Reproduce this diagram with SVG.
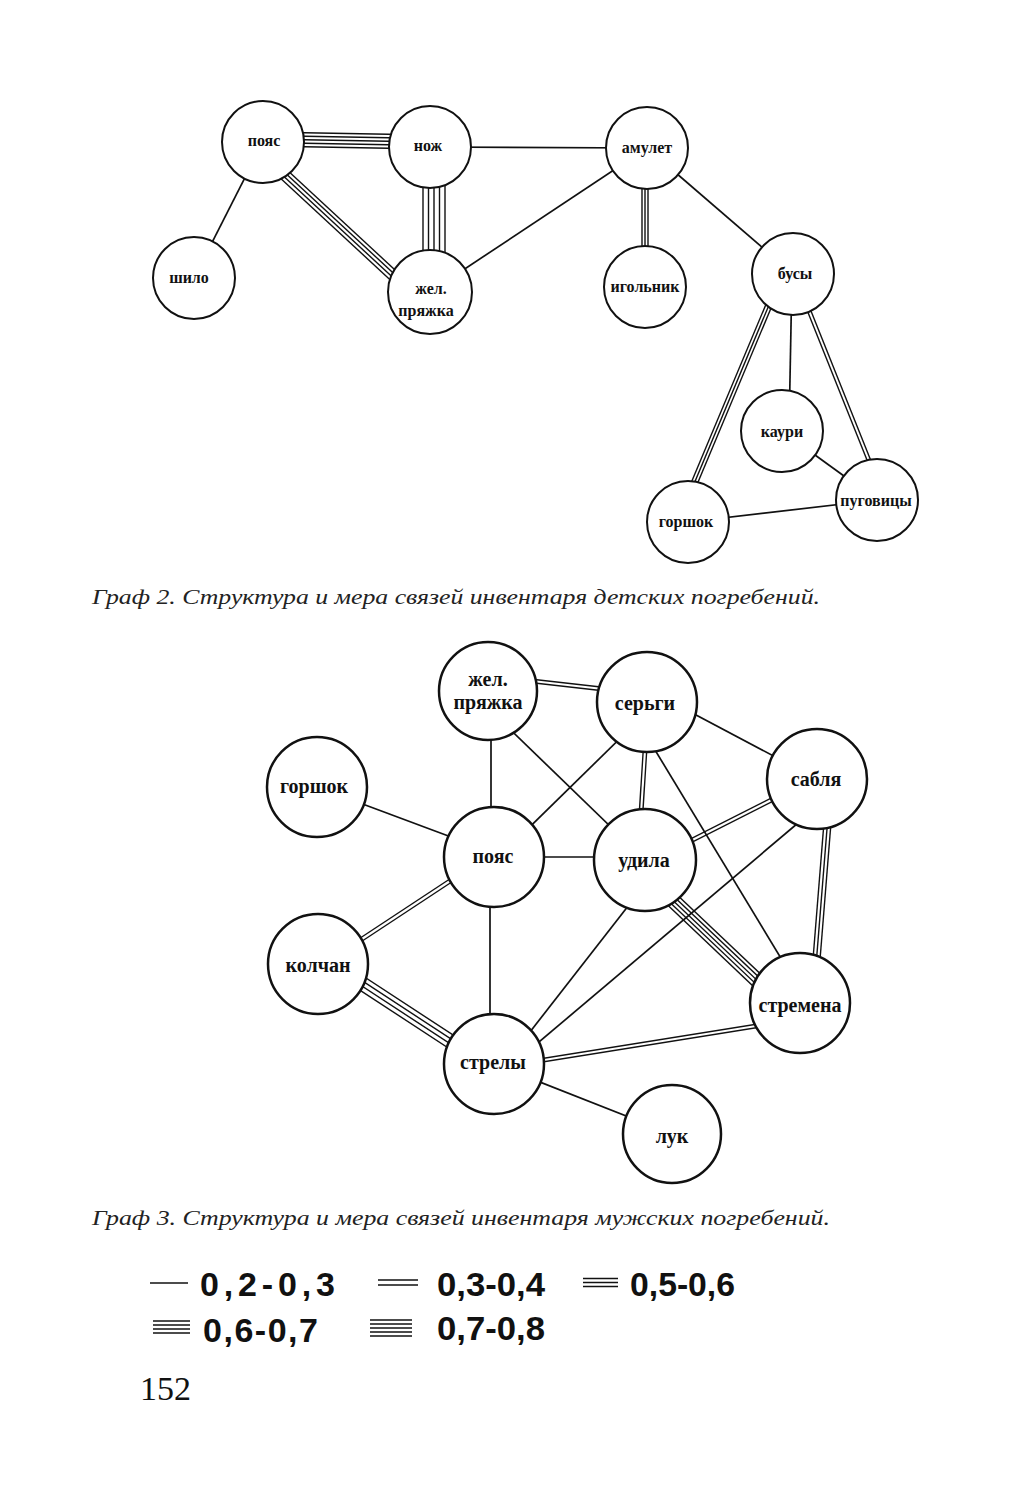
<svg xmlns="http://www.w3.org/2000/svg" width="1013" height="1500" viewBox="0 0 1013 1500">
<style>
.bg{fill:#fff}
.e line{stroke:#111;stroke-width:1.4;stroke-linecap:butt}
.e line.s{stroke-width:1.7}
.n circle{fill:#fff;stroke:#111;stroke-width:2}
.n3 circle{stroke-width:2.5}
.l2{font-family:"Liberation Serif","Times New Roman",serif;font-weight:bold;font-size:16px;fill:#111;text-anchor:middle}
.l3{font-family:"Liberation Serif","Times New Roman",serif;font-weight:bold;font-size:20px;fill:#111;text-anchor:middle}
.cap{font-family:"Liberation Serif","Times New Roman",serif;font-style:italic;font-size:21px;fill:#222}
.lg{font-family:"Liberation Sans",Arial,sans-serif;font-weight:bold;font-size:34px;fill:#111}
.lgl line{stroke:#111;stroke-width:1.5}
</style>
<rect class="bg" x="0" y="0" width="1013" height="1500"/>

<!-- Graph 2 connectors -->
<g id="connectors-graph2" class="e">
  <line x1="263" y1="132" x2="430" y2="135"/>
  <line x1="263" y1="135.5" x2="430" y2="138.5"/>
  <line x1="263" y1="139" x2="430" y2="142"/>
  <line x1="263" y1="142.5" x2="430" y2="145.5"/>
  <line x1="263" y1="146" x2="430" y2="149"/>
  <line x1="266.6" y1="151" x2="433.6" y2="305.7"/>
  <line x1="264.2" y1="153.5" x2="431.2" y2="308.2"/>
  <line x1="261.8" y1="156.1" x2="428.8" y2="310.8"/>
  <line x1="259.4" y1="158.7" x2="426.4" y2="313.4"/>
  <line x1="423" y1="147" x2="423" y2="292"/>
  <line x1="428.5" y1="147" x2="428.5" y2="292"/>
  <line x1="434" y1="147" x2="434" y2="292"/>
  <line x1="439.5" y1="147" x2="439.5" y2="292"/>
  <line x1="445" y1="147" x2="445" y2="292"/>
  <line class="s" x1="263" y1="142" x2="194" y2="278"/>
  <line class="s" x1="430" y1="147" x2="647" y2="148"/>
  <line class="s" x1="430" y1="292" x2="647" y2="148"/>
  <line x1="642" y1="148" x2="642" y2="287"/>
  <line x1="645" y1="148" x2="645" y2="287"/>
  <line x1="648" y1="148" x2="648" y2="287"/>
  <line class="s" x1="647" y1="148" x2="793" y2="274"/>
  <line x1="779.2" y1="272.8" x2="675.2" y2="520.8"/>
  <line x1="782" y1="274" x2="678" y2="522"/>
  <line x1="784.8" y1="275.2" x2="680.8" y2="523.2"/>
  <line class="s" x1="792" y1="274" x2="789" y2="431"/>
  <line x1="796" y1="273.4" x2="886.4" y2="499.4"/>
  <line x1="792.8" y1="274.6" x2="883.2" y2="500.6"/>
  <line class="s" x1="782" y1="431" x2="877" y2="500"/>
  <line class="s" x1="688" y1="522" x2="877" y2="500"/>
</g>

<!-- Graph 2 nodes -->
<g id="g2-poyas" class="n"><circle cx="263" cy="142" r="41"/><text class="l2" x="264" y="146">пояс</text></g>
<g id="g2-nozh" class="n"><circle cx="430" cy="147" r="41"/><text class="l2" x="428" y="151">нож</text></g>
<g id="g2-shilo" class="n"><circle cx="194" cy="278" r="41"/><text class="l2" x="189" y="283">шило</text></g>
<g id="g2-pryazhka" class="n"><circle cx="430" cy="292" r="42"/><text class="l2" x="431" y="294">жел.</text><text class="l2" x="426" y="316">пряжка</text></g>
<g id="g2-amulet" class="n"><circle cx="647" cy="148" r="41"/><text class="l2" x="647" y="153">амулет</text></g>
<g id="g2-igolnik" class="n"><circle cx="645" cy="287" r="41"/><text class="l2" x="645" y="292">игольник</text></g>
<g id="g2-busy" class="n"><circle cx="793" cy="274" r="41"/><text class="l2" x="795" y="279">бусы</text></g>
<g id="g2-kauri" class="n"><circle cx="782" cy="431" r="41"/><text class="l2" x="782" y="437">каури</text></g>
<g id="g2-pugovicy" class="n"><circle cx="877" cy="500" r="41"/><text class="l2" x="876" y="506">пуговицы</text></g>
<g id="g2-gorshok" class="n"><circle cx="688" cy="522" r="41"/><text class="l2" x="686" y="527">горшок</text></g>

<text class="cap" x="92" y="604" textLength="728" lengthAdjust="spacingAndGlyphs">Граф 2. Структура и мера связей инвентаря детских погребений.</text>

<!-- Graph 3 connectors -->
<g id="connectors-graph3" class="e">
  <line x1="488.2" y1="674.3" x2="647.2" y2="692.3"/>
  <line x1="487.8" y1="677.7" x2="646.8" y2="695.7"/>
  <line class="s" x1="491" y1="691" x2="491" y2="857"/>
  <line class="s" x1="488" y1="708" x2="645" y2="860"/>
  <line class="s" x1="317" y1="787" x2="494" y2="853"/>
  <line class="s" x1="494" y1="862" x2="647" y2="712"/>
  <line class="s" x1="494" y1="857" x2="645" y2="857"/>
  <line x1="495" y1="853.5" x2="319" y2="969.5"/>
  <line x1="493" y1="850.5" x2="317" y2="966.5"/>
  <line class="s" x1="490" y1="857" x2="490" y2="1064"/>
  <line x1="646.3" y1="702" x2="636.3" y2="860"/>
  <line x1="649.8" y1="702" x2="639.8" y2="860"/>
  <line class="s" x1="647" y1="689" x2="817" y2="779"/>
  <line class="s" x1="626" y1="702" x2="808" y2="1003"/>
  <line x1="645.8" y1="865.6" x2="817.8" y2="778.6"/>
  <line x1="644.2" y1="862.4" x2="816.2" y2="775.4"/>
  <line x1="827.5" y1="778.7" x2="809.5" y2="1002.7"/>
  <line x1="831" y1="779" x2="813" y2="1003"/>
  <line x1="834.5" y1="779.3" x2="816.5" y2="1003.3"/>
  <line class="s" x1="817" y1="807" x2="494" y2="1080"/>
  <line class="s" x1="664" y1="860" x2="505" y2="1064"/>
  <line x1="649.8" y1="868.9" x2="804.8" y2="1015.9"/>
  <line x1="647.4" y1="871.5" x2="802.4" y2="1018.5"/>
  <line x1="645" y1="874" x2="800" y2="1021"/>
  <line x1="642.6" y1="876.5" x2="797.6" y2="1023.5"/>
  <line x1="640.2" y1="879.1" x2="795.2" y2="1026.1"/>
  <line x1="494.3" y1="1069.7" x2="800.3" y2="1020.7"/>
  <line x1="493.7" y1="1066.3" x2="799.7" y2="1017.3"/>
  <line x1="321.7" y1="949" x2="497.7" y2="1064.2"/>
  <line x1="319.2" y1="952.7" x2="495.2" y2="1067.9"/>
  <line x1="316.8" y1="956.5" x2="492.8" y2="1071.7"/>
  <line x1="314.3" y1="960.3" x2="490.3" y2="1075.5"/>
  <line class="s" x1="494" y1="1064" x2="672" y2="1134"/>
</g>

<!-- Graph 3 nodes -->
<g id="g3-pryazhka" class="n n3"><circle cx="488" cy="691" r="49"/><text class="l3" x="488" y="686">жел.</text><text class="l3" x="488" y="709">пряжка</text></g>
<g id="g3-sergi" class="n n3"><circle cx="647" cy="702" r="50"/><text class="l3" x="645" y="710">серьги</text></g>
<g id="g3-gorshok" class="n n3"><circle cx="317" cy="787" r="50"/><text class="l3" x="314" y="793">горшок</text></g>
<g id="g3-sablya" class="n n3"><circle cx="817" cy="779" r="50"/><text class="l3" x="816" y="786">сабля</text></g>
<g id="g3-poyas" class="n n3"><circle cx="494" cy="857" r="50"/><text class="l3" x="493" y="863">пояс</text></g>
<g id="g3-udila" class="n n3"><circle cx="645" cy="860" r="51"/><text class="l3" x="644" y="867">удила</text></g>
<g id="g3-kolchan" class="n n3"><circle cx="318" cy="964" r="50"/><text class="l3" x="318" y="972">колчан</text></g>
<g id="g3-stremena" class="n n3"><circle cx="800" cy="1003" r="50"/><text class="l3" x="800" y="1012">стремена</text></g>
<g id="g3-strely" class="n n3"><circle cx="494" cy="1064" r="50"/><text class="l3" x="493" y="1069">стрелы</text></g>
<g id="g3-luk" class="n n3"><circle cx="672" cy="1134" r="49"/><text class="l3" x="672" y="1143">лук</text></g>

<text class="cap" x="92" y="1225" textLength="738" lengthAdjust="spacingAndGlyphs">Граф 3. Структура и мера связей инвентаря мужских погребений.</text>

<!-- Legend -->
<g id="legend">
  <g class="lgl">
    <line x1="150" y1="1283" x2="188" y2="1283"/>
    <line x1="378" y1="1280" x2="418" y2="1280"/>
    <line x1="378" y1="1285" x2="418" y2="1285"/>
    <line x1="583" y1="1278.5" x2="618" y2="1278.5"/>
    <line x1="583" y1="1282.5" x2="618" y2="1282.5"/>
    <line x1="583" y1="1286.5" x2="618" y2="1286.5"/>
    <line x1="153" y1="1321" x2="190" y2="1321"/>
    <line x1="153" y1="1325" x2="190" y2="1325"/>
    <line x1="153" y1="1329" x2="190" y2="1329"/>
    <line x1="153" y1="1333" x2="190" y2="1333"/>
    <line x1="370" y1="1320" x2="412" y2="1320"/>
    <line x1="370" y1="1324" x2="412" y2="1324"/>
    <line x1="370" y1="1328" x2="412" y2="1328"/>
    <line x1="370" y1="1332" x2="412" y2="1332"/>
    <line x1="370" y1="1336" x2="412" y2="1336"/>
  </g>
  <text class="lg" x="200" y="1296" textLength="135" lengthAdjust="spacing">0,2-0,3</text>
  <text class="lg" x="437" y="1296" textLength="108" lengthAdjust="spacingAndGlyphs">0,3-0,4</text>
  <text class="lg" x="630" y="1296" textLength="105" lengthAdjust="spacingAndGlyphs">0,5-0,6</text>
  <text class="lg" x="203" y="1342" textLength="115" lengthAdjust="spacing">0,6-0,7</text>
  <text class="lg" x="437" y="1340" textLength="108" lengthAdjust="spacingAndGlyphs">0,7-0,8</text>
</g>

<text x="140" y="1400" font-family="'Liberation Serif','Times New Roman',serif" font-size="34" fill="#111">152</text>
</svg>
